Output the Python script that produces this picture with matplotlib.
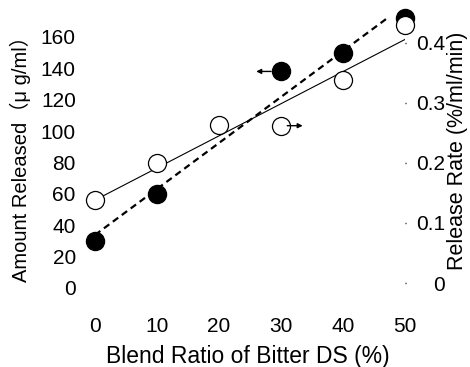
"""Amount released / release rate vs blend ratio of bitter DS."""
import matplotlib
matplotlib.use("Agg")
import matplotlib.pyplot as plt
import numpy as np

# blend ratio of bitter DS (%)
blend_amount = [0, 10, 30, 40, 50]
amount = [30, 60, 138, 150, 172]          # ug/ml, filled circles, left axis
blend_rate = [0, 10, 20, 30, 40, 50]
rate = [0.138, 0.200, 0.263, 0.262, 0.338, 0.430]  # %/ml/min, open circles, right axis

left_ticks = [0, 20, 40, 60, 80, 100, 120, 140, 160]
right_ticks = [0, 0.1, 0.2, 0.3, 0.4]
right_labels = ["0", "0.1", "0.2", "0.3", "0.4"]
x_ticks = [0, 10, 20, 30, 40, 50]

plt.rcParams["font.family"] = ["Liberation Sans", "Noto Sans CJK JP", "DejaVu Sans"]

W, H = 470, 367
fig = plt.figure(figsize=(W / 100, H / 100), dpi=100)
ax = fig.add_axes([80 / W, 67 / H, 325 / W, 286 / H])
ax2 = ax.twinx()

ax.set_xlim(-2.42, 50)
ax.set_ylim(-7.65, 174.6)
ax2.set_ylim(-0.0283, 0.448)

for a in (ax, ax2):
    for s in a.spines.values():
        s.set_visible(False)
    a.patch.set_visible(False)

# regression lines
k1, b1 = np.polyfit(blend_amount, amount, 1)
xs = np.array([0, 47])
ax.plot(xs, k1 * xs + b1, color="black", lw=1.6, ls=(0, (3, 2)), zorder=1)
k2, b2 = np.polyfit(blend_rate, rate, 1)
xs2 = np.array([0, 50])
ax2.plot(xs2, k2 * xs2 + b2, color="black", lw=0.8, zorder=1)

ax.plot(blend_amount, amount, "o", ms=13, mfc="black", mec="black",
        zorder=3, clip_on=False)
ax2.plot(blend_rate, rate, "o", ms=13, mfc="white", mec="black", mew=0.9,
         zorder=3, clip_on=False)

# arrows pointing to the axis each series belongs to
ax.annotate("", xy=(blend_amount[2] - 4.0, amount[2]),
            xytext=(blend_amount[2] - 1.6, amount[2]),
            arrowprops=dict(arrowstyle="-|>", lw=1.0, color="black",
                            mutation_scale=7, shrinkA=0, shrinkB=0))
ax2.annotate("", xy=(blend_rate[3] + 3.5, rate[3]),
             xytext=(blend_rate[3] + 1.0, rate[3]),
             arrowprops=dict(arrowstyle="-|>", lw=1.0, color="black",
                             mutation_scale=7, shrinkA=0, shrinkB=0))

ax.set_xticks(x_ticks)
ax.set_yticks(left_ticks)
ax.tick_params(axis="x", length=0, pad=12, labelsize=15)
ax.tick_params(axis="y", length=0, pad=3, labelsize=15)
ax2.set_yticks(right_ticks)
ax2.set_yticklabels(right_labels, ha="right")
ax2.tick_params(axis="y", length=1, width=1, pad=28, labelsize=15)

fig.text(248 / W, 1 - 357 / H, "Blend Ratio of Bitter DS (%)", fontsize=16.5,
         ha="center", va="center")
fig.text(20 / W, 1 - 154 / H, "Amount Released（μ g/ml）", fontsize=14.5,
         rotation=90, ha="center", va="center")
fig.text(458 / W, 1 - 151 / H, "Release Rate (%/ml/min)", fontsize=15.5,
         rotation=90, ha="center", va="center")

fig.savefig("out.png", dpi=100)
